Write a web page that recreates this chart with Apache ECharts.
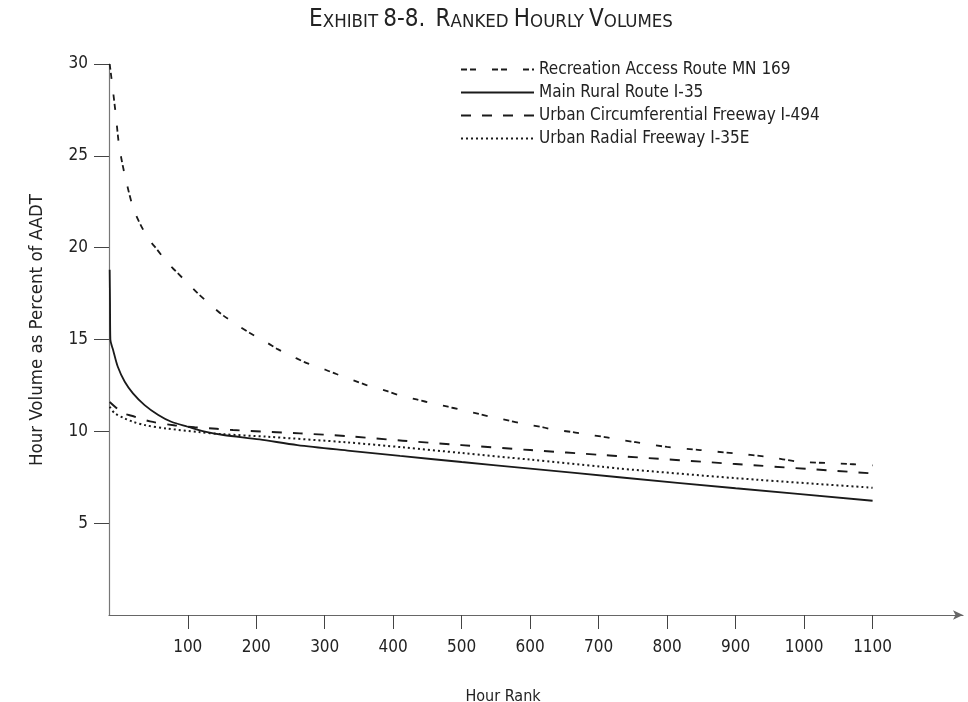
<!DOCTYPE html>
<html>
<head>
<meta charset="utf-8">
<script src="https://cdn.jsdelivr.net/npm/echarts@6/dist/echarts.min.js"></script>
<style>html,body{margin:0;padding:0;background:#fff;}#c{width:968px;height:702px;}</style>
</head>
<body>
<div id="c"></div>
<script>
// ---- Data (hour rank, hour volume as % of AADT) ----
const seriesNames = [
  'Recreation Access Route MN 169',
  'Main Rural Route I-35',
  'Urban Circumferential Freeway I-494',
  'Urban Radial Freeway I-35E'
];
const recreation = [[-14,30],[-10,28.8],[-5,27.2],[0,25.5],[9,23.8],[22,22.0],[42,20.5],[53,20.0],[71,19.15],[83,18.7],[103,17.95],[115,17.5],[139,16.7],[152,16.3],[176,15.7],[190,15.37],[217,14.8],[232,14.46],[259,13.97],[273,13.73],[302,13.34],[317,13.12],[344,12.75],[361,12.52],[390,12.2],[407,11.98],[434,11.74],[451,11.58],[480,11.34],[496,11.2],[526,10.94],[541,10.8],[572,10.56],[587,10.43],[619,10.22],[633,10.1],[662,9.96],[680,9.85],[709,9.69],[726,9.58],[752,9.42],[800,9.15],[848,8.98],[898,8.8],[945,8.62],[993,8.35],[1050,8.25],[1100,8.15]];
const mainRural = [[-14,18.8],[-13.5,17.0],[-13,15.0],[-9,14.43],[-2,13.5],[8,12.7],[20,12.07],[37,11.43],[57,10.89],[76,10.52],[100,10.25],[125,9.98],[152,9.8],[205,9.56],[260,9.25],[337,8.94],[410,8.66],[500,8.33],[600,7.97],[730,7.5],[900,6.9],[1100,6.22]];
const urbanCircumferential = [[-14,11.6],[-5,11.3],[5,11.0],[18,10.85],[45,10.54],[82,10.32],[110,10.22],[142,10.14],[166,10.07],[264,9.89],[332,9.74],[414,9.49],[500,9.25],[600,8.98],[706,8.71],[726,8.66],[900,8.22],[1100,7.71]];
const urbanRadial = [[-14,11.34],[-7,11.0],[8,10.7],[20,10.52],[37,10.34],[70,10.15],[116,9.96],[149,9.85],[215,9.71],[332,9.4],[414,9.13],[500,8.82],[600,8.46],[706,8.07],[728,7.98],[900,7.45],[1100,6.93]];
const xTicks = [100,200,300,400,500,600,700,800,900,1000,1100];
const yTicks = [5,10,15,20,25,30];

const FONT = "'Liberation Sans Narrow','DejaVu Sans Condensed',sans-serif";
const INK = '#1a1a1a';

const chart = echarts.init(document.getElementById('c'), null, {renderer: 'canvas'});
const mk = (name, data, type, width) => ({
  name, type: 'line', data, symbol: 'none', showSymbol: false, smooth: 0.3, silent: true,
  lineStyle: {color: INK, width, type}, itemStyle: {color: INK}
});
chart.setOption({
  animation: false,
  backgroundColor: '#fff',
  title: [{
    left: 486, top: 3, textAlign: 'center',
    text: '{a|E}{b|XHIBIT} {a|8-8.}  {a|R}{b|ANKED} {a|H}{b|OURLY} {a|V}{b|OLUMES}',
    textStyle: {
      fontFamily: FONT, fontWeight: 'normal',
      rich: {
        a: {fontFamily: FONT, fontSize: 24, fontWeight: 'normal', color: '#222', verticalAlign: 'bottom'},
        b: {fontFamily: FONT, fontSize: 18.5, fontWeight: 'normal', color: '#222', verticalAlign: 'bottom'}
      }
    }
  }, {
    left: 498, top: 684, textAlign: 'center', text: 'Hour Rank',
    textStyle: {fontFamily: FONT, fontSize: 16, fontWeight: 'normal', color: '#222'}
  }],
  graphic: [{
    type: 'text', x: 37, y: 330, rotation: Math.PI / 2,
    style: {text: 'Hour Volume as Percent of AADT', font: '18.5px ' + FONT, fill: '#222', align: 'center', verticalAlign: 'middle'}
  }],
  legend: {
    orient: 'vertical', left: 455, top: 56,
    itemWidth: 73, itemHeight: 14, itemGap: 6,
    itemStyle: {opacity: 0, borderWidth: 0},
    textStyle: {fontFamily: FONT, fontSize: 17, color: '#222', lineHeight: 16},
    data: seriesNames
  },
  grid: {left: 109, right: 5, top: 64, bottom: 87, containLabel: false},
  xAxis: {
    type: 'value', min: -15, max: 1232,
    axisLine: {show: true, onZero: false, lineStyle: {color: '#666', width: 1.2}, symbol: ['none', 'arrow'], symbolSize: [7, 10]},
    axisTick: {show: true, length: 14, inside: false, customValues: xTicks, lineStyle: {color: '#444'}},
    axisLabel: {customValues: xTicks, margin: 24, fontFamily: FONT, fontSize: 17, color: '#222', formatter: v => String(v)},
    splitLine: {show: false}
  },
  yAxis: {
    type: 'value', min: 0, max: 30,
    axisLine: {show: true, onZero: false, lineStyle: {color: '#777', width: 1.2}},
    axisTick: {show: true, length: 15, customValues: yTicks, lineStyle: {color: '#444'}},
    axisLabel: {customValues: yTicks, margin: 21, fontFamily: FONT, fontSize: 17, color: '#222', formatter: v => String(v)},
    splitLine: {show: false}
  },
  series: [
    mk(seriesNames[0], recreation, [6, 3, 6, 16], 1.8),
    mk(seriesNames[1], mainRural, 'solid', 1.8),
    mk(seriesNames[2], urbanCircumferential, [10, 11], 1.9),
    mk(seriesNames[3], urbanRadial, [2, 3], 2)
  ]
});
</script>
</body>
</html>
